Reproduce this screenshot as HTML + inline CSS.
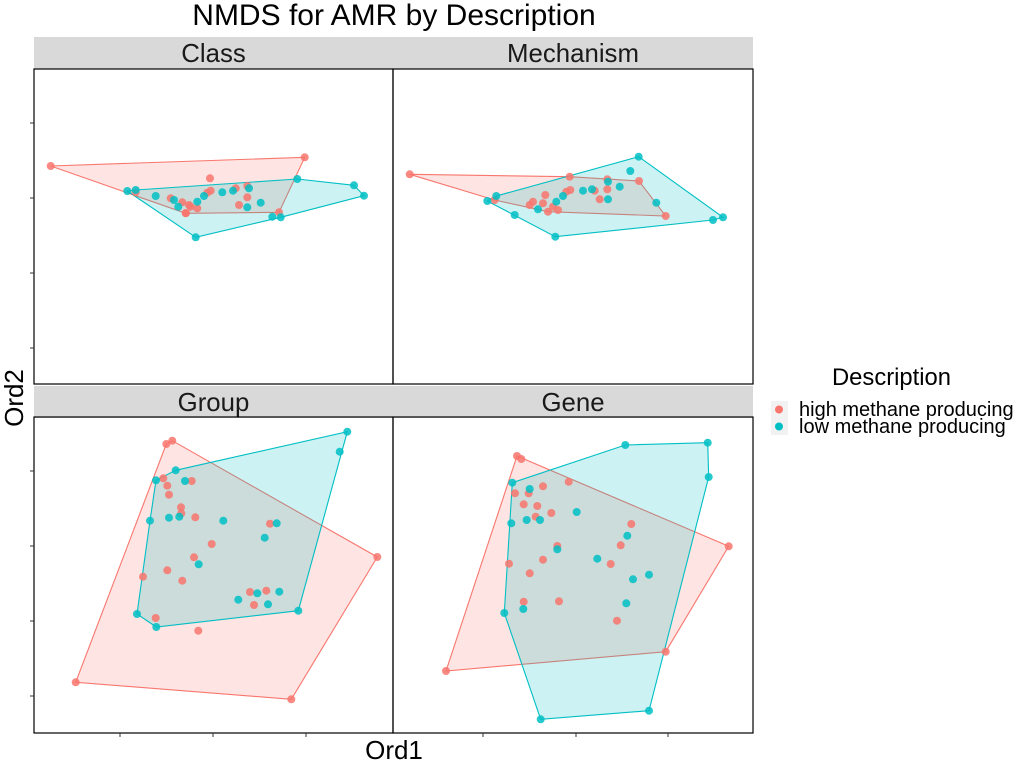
<!DOCTYPE html>
<html><head><meta charset="utf-8"><style>
body{margin:0;background:#fff;width:1024px;height:768px;overflow:hidden;font-family:"Liberation Sans",sans-serif;}
</style></head><body>
<svg id="chart" width="1024" height="768" xmlns="http://www.w3.org/2000/svg" font-family="Liberation Sans, sans-serif">
<text x="394" y="25" font-size="30" text-anchor="middle" fill="#000">NMDS for AMR by Description</text>
<text x="394" y="759" font-size="26" text-anchor="middle" fill="#000">Ord1</text>
<text transform="translate(23,398) rotate(-90)" font-size="26" text-anchor="middle" fill="#000">Ord2</text>
<g>
<text x="832" y="385" font-size="23.8" fill="#000">Description</text>
<rect x="771" y="401" width="17" height="17" fill="#f2f2f2"/>
<circle cx="779" cy="409.5" r="4" fill="#F8766D"/>
<text x="799" y="416" font-size="20" fill="#000">high methane producing</text>
<rect x="771" y="418" width="17" height="17" fill="#f2f2f2"/>
<circle cx="779" cy="426.5" r="4" fill="#00BFC4"/>
<text x="799" y="433" font-size="20" fill="#000">low methane producing</text>
</g>
<g id="panels"></g>
</svg>
<script>
// Ordination scores per panel (arbitrary ord units), x then y
const classHighX=[50.7,304.7,210,279,170.7,182.3,185.7,190.7,197.3,207.3,210.7,235.7,247.3,247.3,239,135.7,189,186];
const classHighY=[166,157.3,178.3,212.3,198.3,202.3,213.3,206.7,208.3,192.7,190.7,188.3,186,197.3,205,192.3,205,213];
const classLowX=[127.3,135.7,155.7,174,178.3,197.3,204,222.3,233,249,247.3,260.7,297.3,354,364,272.3,280.7,195.7];
const classLowY=[191,190,196,200,206.7,201.7,196,192.3,190.7,188.3,207.3,202.7,179,185.3,195.7,216.7,217.3,237.3];
const mechHighX=[409.7,569.7,607.3,639,665.7,494.7,529.7,533,543,545.3,548,553,558,566.3,570.3,594.7,607.3,599.7];
const mechHighY=[174.3,176.7,179.3,181,216,200,205,201.7,203.3,195,211.7,206.7,210,191.7,190,190.7,189.3,199.3];
const mechLowX=[487.3,496.3,514.7,538,556.3,563,583,592,608,608,619.7,630.3,638.7,656.3,713,723,555.3];
const mechLowY=[201,196,215,209.3,201.7,196,190.7,189.3,181.7,199.3,186.7,171,156.7,202.7,220,217.3,236.7];
const groupHighX=[166.3,172.3,163.3,167.3,169,191.7,181,181.3,195.3,270,211.7,194,167.3,143,182.3,250,266.3,254,155.7,198.3,377.3,75.7,291.3];
const groupHighY=[444,440.7,478.3,485.7,494.7,481,507.3,513.3,517.3,523.7,544,557.3,570.3,576.7,580.7,592,590.7,605,618,630.7,557,682.3,699.3];
const groupLowX=[347.3,339.7,175.7,156,185,150,169,179.3,223.3,276.7,264.7,198.7,238.3,257.3,268,279.3,298.3,137,156.3];
const groupLowY=[431.7,451.7,470.3,480.3,481,520.7,517.7,516.7,520.7,523.3,537.7,564.3,599.7,593.3,604.3,591.7,610.7,614,627];
const geneHighX=[517,521.3,515,528.7,543,568.7,523.7,537.3,535.7,551.3,631.3,620.7,557.3,543,509,610.7,529.7,523.7,559,617,728.7,665.7,446];
const geneHighY=[456,459,493.3,493.3,486.3,481.7,504.3,506,516.7,513,524,545.3,546,559.7,563.7,564,573.3,601.7,601.3,620.7,546.3,651.7,671];
const geneLowX=[625.3,707.7,708.7,512.3,529.7,511.3,526.7,540,576.7,627.3,557.3,597.3,633,649,626.3,523.3,504.3,540.7,649];
const geneLowY=[445,442.7,477,482.7,489,523.3,520,520,512,535.7,549.3,558.7,579.3,574.7,603.3,609,613,719.3,710.7];
const panelTitles=["Class","Mechanism","Group","Gene"];

const NS="http://www.w3.org/2000/svg";
const root=document.getElementById('panels');
function mk(tag,attrs,parent){const e=document.createElementNS(NS,tag);for(const k in attrs)e.setAttribute(k,attrs[k]);parent.appendChild(e);return e;}
function hull(pts){
  const p=pts.slice().sort((a,b)=>a[0]-b[0]||a[1]-b[1]);
  const cr=(o,a,b)=>(a[0]-o[0])*(b[1]-o[1])-(a[1]-o[1])*(b[0]-o[0]);
  const lo=[],up=[];
  for(const q of p){while(lo.length>=2&&cr(lo[lo.length-2],lo[lo.length-1],q)<=0)lo.pop();lo.push(q);}
  for(let i=p.length-1;i>=0;i--){const q=p[i];while(up.length>=2&&cr(up[up.length-2],up[up.length-1],q)<=0)up.pop();up.push(q);}
  up.pop();lo.pop();return lo.concat(up);
}
const panels=[
 {t:0,x0:34,y0:69,xd:[34,393],yd:[69,384],s:[[classHighX,classHighY],[classLowX,classLowY]],strip:37},
 {t:1,x0:393,y0:69,xd:[393,753],yd:[69,384],s:[[mechHighX,mechHighY],[mechLowX,mechLowY]],strip:37},
 {t:2,x0:34,y0:417,xd:[34,393],yd:[417,733],s:[[groupHighX,groupHighY],[groupLowX,groupLowY]],strip:386},
 {t:3,x0:393,y0:417,xd:[393,753],yd:[417,733],s:[[geneHighX,geneHighY],[geneLowX,geneLowY]],strip:386}
];
const cols=["#F8766D","#00BFC4"];
panels.forEach((P,i)=>{
  const w=(i%2==0)?359:360;
  const g=mk('g',{},root);
  
  
  const xs=v=>P.x0+(v-P.xd[0])/(P.xd[1]-P.xd[0])*w;
  const ys=v=>P.y0+(v-P.yd[0])/(P.yd[1]-P.yd[0])*(P.yd[1]-P.yd[0]);
  const st=mk('rect',{x:P.x0,y:P.strip,width:w,height:32,fill:'#D9D9D9'},g);
  
  
  const tt=mk('text',{x:P.x0+w/2,y:P.strip+25,'font-size':25.8,'text-anchor':'middle',fill:'#1a1a1a'},g);
  tt.textContent=panelTitles[P.t];
  
  
  P.s.forEach((ser,k)=>{
    const pts=ser[0].map((v,j)=>[xs(v),ys(ser[1][j])]);
    const h=hull(pts);
    const poly=mk('polygon',{points:h.map(q=>q.join(',')).join(' '),fill:cols[k],'fill-opacity':0.2,stroke:cols[k],'stroke-width':1.1},g);
    
    
  });
  P.s.forEach((ser,k)=>{
    ser[0].forEach((v,j)=>{
      const c=mk('circle',{cx:xs(v),cy:ys(ser[1][j]),r:4,fill:cols[k],'fill-opacity':0.85},g);
      
      
    });
  });
  const b=mk('rect',{x:P.x0,y:P.y0,width:w,height:P.yd[1]-P.yd[0],fill:'none',stroke:'#000','stroke-width':1.2},g);
  
  
});
const yTicksTop=[123,198,273,348], yTicksBot=[471,546,621,696], xTicks=[120,213,306,483,576,668];
const ax=mk('g',{stroke:'#333','stroke-width':1},root);


yTicksTop.concat(yTicksBot).forEach(v=>mk('line',{x1:30,x2:34,y1:v,y2:v},ax));
xTicks.forEach(v=>mk('line',{x1:v,x2:v,y1:733,y2:737},ax));
</script>
</body></html>
